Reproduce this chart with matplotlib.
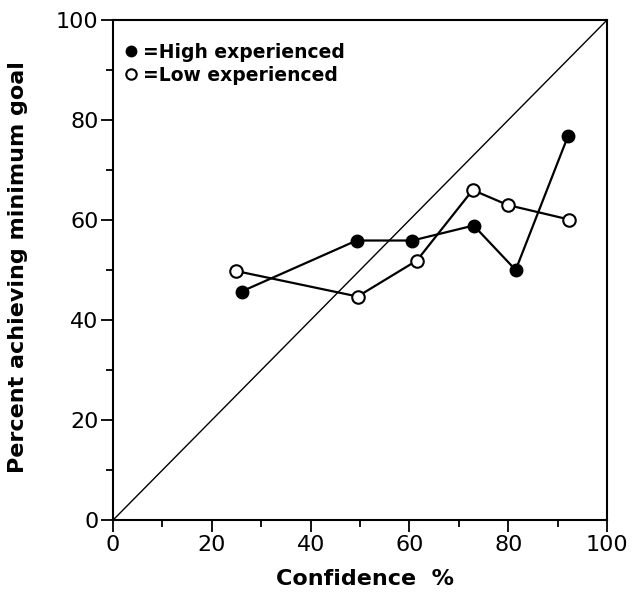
import matplotlib
matplotlib.use("Agg")
import matplotlib.pyplot as plt

# values
high_x = [26, 49.3, 60.6, 73, 81.5, 92.1]
high_y = [45.7, 55.9, 55.9, 58.9, 50, 76.8]
low_x = [24.9, 49.5, 61.5, 72.8, 79.9, 92.3]
low_y = [49.8, 44.7, 51.9, 66, 63, 60.1]
ticks = [0, 20, 40, 60, 80, 100]

plt.rcParams['font.family'] = ['DejaVu Sans']

fig = plt.figure(figsize=(6.39, 5.92), dpi=100)
ax = fig.add_axes([0.177, 0.1216, 0.773, 0.8446])

ax.plot([0, 100], [0, 100], color='black', lw=1.0)
ax.plot(high_x, high_y, color='black', lw=1.6, marker='o', ms=9,
        mfc='black', mec='black', label='=High experienced')
ax.plot(low_x, low_y, color='black', lw=1.6, marker='o', ms=9,
        mfc='white', mec='black', mew=1.5, label='=Low experienced')

ax.set_xlim(0, 100)
ax.set_ylim(0, 100)
ax.set_xticks(ticks)
ax.set_yticks(ticks)
ax.set_xticks(range(10, 100, 20), minor=True)
ax.set_yticks(range(10, 100, 20), minor=True)
ax.tick_params(which='both', direction='out', width=1.3, labelsize=16, pad=2)
ax.tick_params(which='major', length=8.5)
ax.tick_params(which='minor', length=5)
for s in ax.spines.values():
    s.set_linewidth(1.5)

ax.set_xlabel('Confidence  %', fontsize=16, fontweight='bold')
ax.xaxis.set_label_coords(0.51, -0.098)
ax.set_ylabel('Percent achieving minimum goal', fontsize=16, fontweight='bold')
ax.yaxis.set_label_coords(-0.172, 0.505)

leg = ax.legend(loc='upper left', bbox_to_anchor=(0.0, 0.977), frameon=False,
                handlelength=0.7, handletextpad=0.3, borderaxespad=0.2,
                labelspacing=0.2, prop={'weight': 'bold', 'size': 13.5})
for h in leg.legend_handles:
    h.set_linestyle('none')
    h.set_markersize(7.5)

fig.savefig('out.png', dpi=100)
